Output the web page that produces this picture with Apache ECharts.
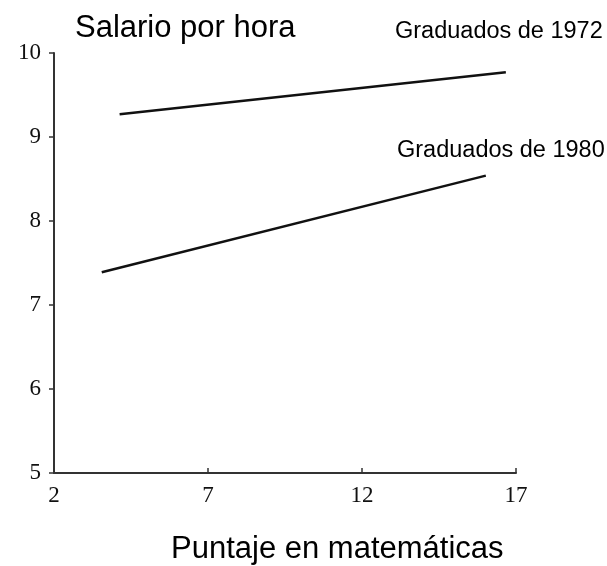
<!DOCTYPE html>
<html>
<head>
<meta charset="utf-8">
<script src="https://cdn.jsdelivr.net/npm/echarts@6/dist/echarts.min.js"></script>
<style>
  html, body { margin: 0; padding: 0; background: #fff; }
  #chart { width: 607px; height: 566px; }
</style>
</head>
<body>
<div id="chart"></div>
<script>
  // datos
  const xTicks = [2, 7, 12, 17]
  const yTicks = [5, 6, 7, 8, 9, 10]
  const grad1972 = [[4.13, 9.27], [16.67, 9.77]]
  const grad1980 = [[3.55, 7.39], [16.02, 8.54]]

  const serif = 'Liberation Serif'
  const sans = 'Liberation Sans'

  let myChart = echarts.init(document.getElementById('chart'))
  myChart.setOption({
    animation: false,
    backgroundColor: '#fff',
    title: [
      { text: 'Salario por hora', left: 70, top: 8, textStyle: { fontFamily: sans, fontSize: 31, fontWeight: 'normal', color: '#000' } },
      { text: 'Graduados de 1972', left: 390, top: 15, textStyle: { fontFamily: sans, fontSize: 23.5, fontWeight: 'normal', color: '#000' } },
      { text: 'Graduados de 1980', left: 392, top: 134, textStyle: { fontFamily: sans, fontSize: 23.5, fontWeight: 'normal', color: '#000' } },
      { text: 'Puntaje en matemáticas', left: 166, top: 529, textStyle: { fontFamily: sans, fontSize: 31, fontWeight: 'normal', color: '#000' } }
    ],
    grid: { left: 54, top: 53, right: 91, bottom: 93, containLabel: false },
    xAxis: {
      type: 'value', min: xTicks[0], max: xTicks[xTicks.length - 1], interval: 5,
      axisLine: { show: true, lineStyle: { color: '#333', width: 2 } },
      axisTick: { show: true, inside: true, length: 5, lineStyle: { color: '#333', width: 1.5 } },
      splitLine: { show: false },
      axisLabel: { fontFamily: serif, fontSize: 23, color: '#111', margin: 11 }
    },
    yAxis: {
      type: 'value', min: yTicks[0], max: yTicks[yTicks.length - 1], interval: 1,
      axisLine: { show: true, lineStyle: { color: '#333', width: 2 } },
      axisTick: { show: true, length: 5, lineStyle: { color: '#333', width: 1.5 } },
      splitLine: { show: false },
      axisLabel: { fontFamily: serif, fontSize: 23, color: '#111', margin: 13 }
    },
    series: [{
      name: 'Graduados de 1972',
      type: 'line',
      data: grad1972,
      showSymbol: false,
      lineStyle: { color: '#111', width: 2.5 }
    }, {
      name: 'Graduados de 1980',
      type: 'line',
      data: grad1980,
      showSymbol: false,
      lineStyle: { color: '#111', width: 2.5 }
    }]
  })
</script>
</body>
</html>
